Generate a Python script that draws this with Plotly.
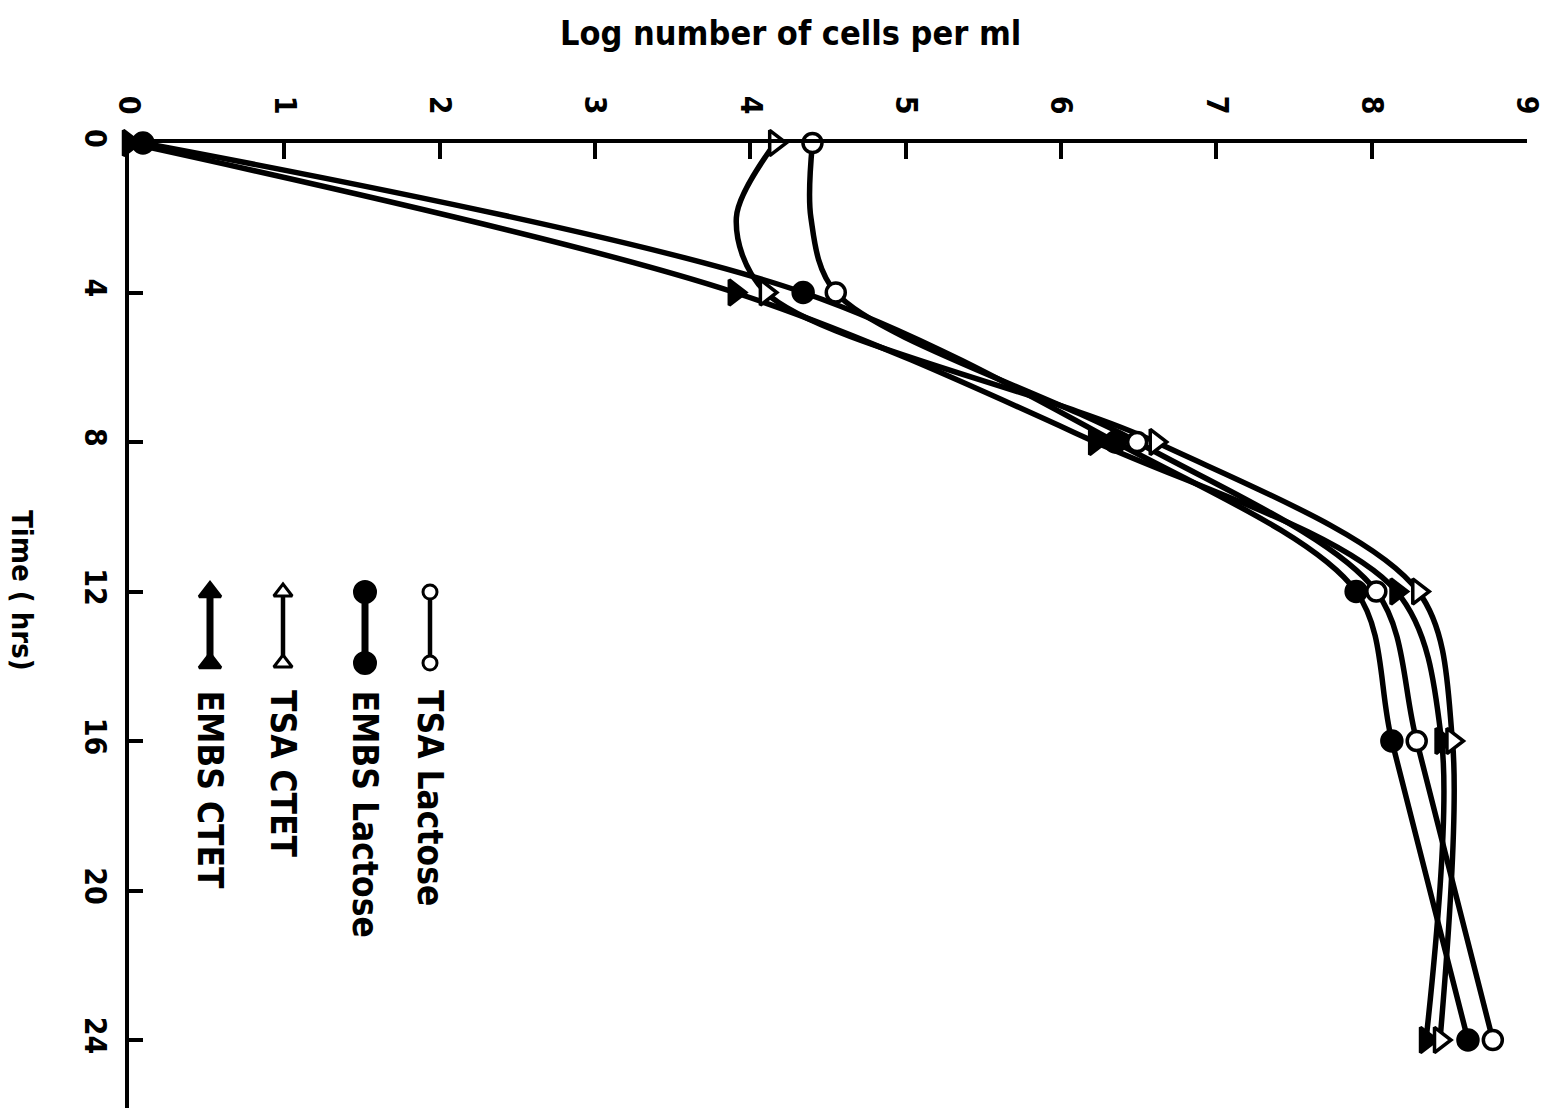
import plotly.graph_objects as go

# ---- data ----
time_hrs = [0, 4, 8, 12, 16, 24]
tsa_lactose = [4.40, 4.55, 6.49, 8.03, 8.29, 8.78]
embs_lactose = [0.09, 4.34, 6.35, 7.90, 8.13, 8.62]
tsa_ctet = [4.16, 4.10, 6.61, 8.30, 8.52, 8.44]
embs_ctet = [0.00, 3.90, 6.22, 8.16, 8.45, 8.35]

# drawn curves (hand-drawn line passes through an extra reading at t=2 for TSA curves)
tsa_lactose_curve_t = [0, 2, 4, 8, 12, 16, 24]
tsa_lactose_curve = [4.40, 4.39, 4.55, 6.49, 8.03, 8.29, 8.78]
tsa_ctet_curve_t = [0, 2, 4, 8, 12, 16, 24]
tsa_ctet_curve = [4.16, 3.91, 4.10, 6.61, 8.30, 8.52, 8.44]

log_ticks = [0, 1, 2, 3, 4, 5, 6, 7, 8, 9]
time_ticks = [0, 4, 8, 12, 16, 20, 24]

series_names = ["TSA Lactose", "EMBS Lactose", "TSA CTET", "EMBS CTET"]

FONT = "DejaVu Sans Condensed, Liberation Sans Narrow, DejaVu Sans, sans-serif"
BLACK = "#000000"
LW = 5.5

fig = go.Figure()

def add_line(t, v):
    fig.add_trace(go.Scatter(
        x=v, y=t, mode="lines",
        line=dict(color=BLACK, width=LW, shape="spline", smoothing=0.9),
        cliponaxis=False, showlegend=False, hoverinfo="skip"))

add_line(tsa_lactose_curve_t, tsa_lactose_curve)
add_line(time_hrs, embs_lactose)
add_line(tsa_ctet_curve_t, tsa_ctet_curve)
add_line(time_hrs, embs_ctet)

def add_markers(t, v, symbol, fill, size):
    fig.add_trace(go.Scatter(
        x=v, y=t, mode="markers",
        marker=dict(symbol=symbol, size=size, color=fill,
                    line=dict(color=BLACK, width=3.5)),
        cliponaxis=False, showlegend=False))

add_markers(time_hrs, embs_ctet, "triangle-right", BLACK, 22)
add_markers(time_hrs, tsa_ctet, "triangle-right", "white", 22)
add_markers(time_hrs, embs_lactose, "circle", BLACK, 20)
add_markers(time_hrs, tsa_lactose, "circle", "white", 19)

# ---- hand-drawn key (overlay axes in pixel units) ----
key_x = [430, 365, 283, 210]
key_symbols = ["circle", "circle", "triangle-up", "triangle-up"]
key_fill = ["white", BLACK, "white", BLACK]
key_lw = [4.5, 7, 4.5, 7]
key_size = [14, 21, 16, 19]
for kx, sym, fc, lw, sz, name in zip(key_x, key_symbols, key_fill, key_lw, key_size, series_names):
    fig.add_trace(go.Scatter(
        x=[kx, kx], y=[592, 663], mode="lines+markers", xaxis="x2", yaxis="y2",
        line=dict(color=BLACK, width=lw),
        marker=dict(symbol=sym, size=sz, color=fc, line=dict(color=BLACK, width=3)),
        cliponaxis=False, showlegend=False, hoverinfo="skip"))
    fig.add_annotation(
        x=kx, y=688, xref="x2", yref="y2", text=name, textangle=90,
        showarrow=False, xanchor="center", yanchor="top",
        font=dict(family=FONT, size=35, color=BLACK, weight="bold"))

# plot area in pixels: x 129..1527, y 143..1108
PX0, PX1, PY0, PY1 = 129, 1527, 143, 1108
def px_x(px):
    return (px - PX0) / (PX1 - PX0)
def px_y(py):
    return (PY1 - py) / (PY1 - PY0)

fig.add_annotation(text="Log number of cells per ml", x=px_x(790), y=px_y(33),
                   xref="paper", yref="paper", xanchor="center", yanchor="middle",
                   showarrow=False,
                   font=dict(family=FONT, size=34, color=BLACK, weight="bold"))
fig.add_annotation(text="Time ( hrs)", x=px_x(22), y=px_y(590),
                   xref="paper", yref="paper", xanchor="center", yanchor="middle",
                   showarrow=False, textangle=90,
                   font=dict(family=FONT, size=29, color=BLACK, weight="bold"))

fig.update_layout(
    width=1550, height=1108,
    margin=dict(l=PX0, r=1550 - PX1, t=PY0, b=0),
    paper_bgcolor="white", plot_bgcolor="white",
    showlegend=False,
    xaxis=dict(
        range=[0, 9], side="top", tickvals=log_ticks,
        ticktext=[str(v) for v in log_ticks],
        ticks="inside", ticklen=16, tickwidth=3.5, tickcolor=BLACK,
        showline=True, linewidth=4, linecolor=BLACK,
        showgrid=False, zeroline=False, tickangle=90,
        ticklabelstandoff=14,
        tickfont=dict(family=FONT, size=30, color=BLACK, weight="bold"),
    ),
    yaxis=dict(
        range=[(1108 - 143) / 37.375, 0], tickvals=time_ticks,
        ticktext=[str(v) for v in time_ticks],
        ticks="inside", ticklen=14, tickwidth=3.5, tickcolor=BLACK,
        showline=True, linewidth=4, linecolor=BLACK,
        showgrid=False, zeroline=False, tickangle=90,
        ticklabelstandoff=4,
        tickfont=dict(family=FONT, size=30, color=BLACK, weight="bold"),
    ),
    xaxis2=dict(range=[PX0, PX1], overlaying="x", visible=False, anchor="y2"),
    yaxis2=dict(range=[PY1, PY0], overlaying="y", visible=False, anchor="x2"),
)

fig.write_html("out.html")
